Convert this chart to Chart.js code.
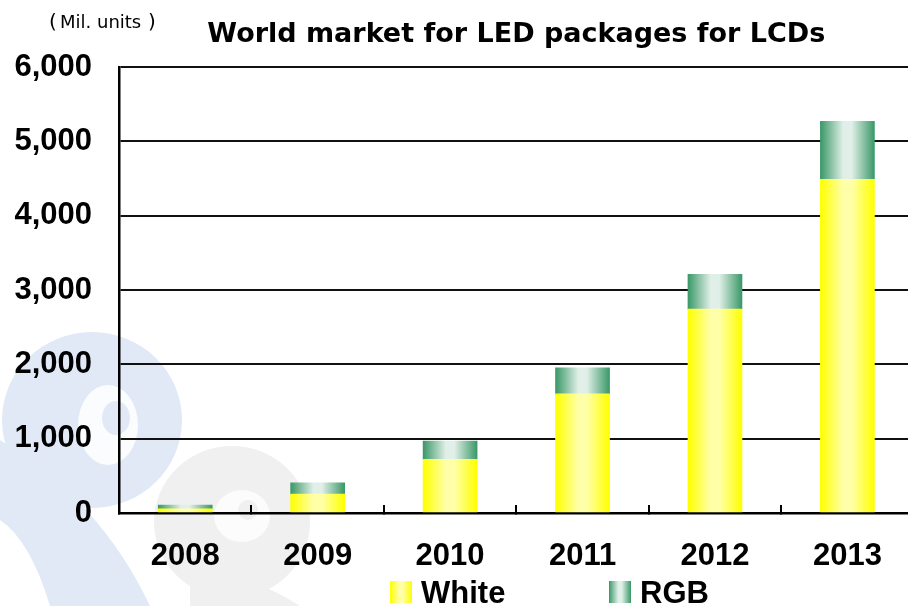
<!DOCTYPE html>
<html>
<head>
<meta charset="utf-8">
<script src="https://cdn.jsdelivr.net/npm/chart.js@4.4.1/dist/chart.umd.min.js"></script>
<style>
  html, body { margin: 0; padding: 0; background: #fff; overflow: hidden; }
  #wrap { width: 915px; height: 606px; }
</style>
</head>
<body>
<div id="wrap"><canvas id="ledChart" width="915" height="606"></canvas></div>
<script>
// LED package shipments for LCD backlights (million units)
const years = ['2008', '2009', '2010', '2011', '2012', '2013'];
const whiteUnits = [55, 255, 722, 1603, 2742, 4490];
const rgbUnits = [52, 152, 246, 350, 470, 779];
const yTicks = [0, 1000, 2000, 3000, 4000, 5000, 6000];

const FONT = '"Liberation Sans", Arial, sans-serif';
const WIDE = '"DejaVu Sans", Verdana, sans-serif';
const BAR_W = 54;

// horizontal cylinder-like shading: saturated edges, pale middle
function shade(ctx, x0, x1, edge, mid) {
  const g = ctx.createLinearGradient(x0, 0, x1, 0);
  g.addColorStop(0, edge);
  g.addColorStop(0.42, mid);
  g.addColorStop(0.58, mid);
  g.addColorStop(1, edge);
  return g;
}

function barFill(edge, mid) {
  return function(c) {
    const chart = c.chart;
    const xs = chart.scales.x;
    if (c.type !== 'data' || !xs || !chart.chartArea) return edge;
    const cx = xs.getPixelForValue(c.dataIndex);
    if (!isFinite(cx)) return edge;
    return shade(chart.ctx, cx - BAR_W / 2, cx + BAR_W / 2, edge, mid);
  };
}

const YELLOW = ['#ffff00', '#ffffa8'];
const GREEN = ['#3a9868', '#e0efe7'];

// faint swirl logo behind the chart
const backdrop = {
  id: 'backdrop',
  beforeDraw(chart) {
    const ctx = chart.ctx;
    ctx.save();
    ctx.fillStyle = '#e2e9f6';
    ctx.beginPath();
    ctx.ellipse(92, 420, 90, 88, 0, 0, Math.PI * 2);
    ctx.fill();
    ctx.beginPath();
    ctx.moveTo(0, 440);
    ctx.quadraticCurveTo(100, 500, 150, 606);
    ctx.lineTo(50, 606);
    ctx.quadraticCurveTo(30, 540, 0, 520);
    ctx.closePath();
    ctx.fill();
    ctx.fillStyle = '#fbfcfe';
    ctx.beginPath();
    ctx.ellipse(108, 425, 30, 40, 0, 0, Math.PI * 2);
    ctx.fill();
    ctx.fillStyle = '#e2e9f6';
    ctx.beginPath();
    ctx.ellipse(116, 418, 14, 17, 0, 0, Math.PI * 2);
    ctx.fill();

    ctx.fillStyle = '#f0f0f0';
    ctx.beginPath();
    ctx.ellipse(232, 522, 78, 76, 0, 0, Math.PI * 2);
    ctx.fill();
    ctx.beginPath();
    ctx.moveTo(190, 560);
    ctx.quadraticCurveTo(260, 580, 300, 606);
    ctx.lineTo(190, 606);
    ctx.closePath();
    ctx.fill();
    ctx.fillStyle = '#fcfcfc';
    ctx.beginPath();
    ctx.ellipse(242, 516, 28, 26, 0, 0, Math.PI * 2);
    ctx.fill();
    ctx.fillStyle = '#f0f0f0';
    ctx.beginPath();
    ctx.ellipse(248, 510, 10, 10, 0, 0, Math.PI * 2);
    ctx.fill();
    ctx.restore();
  }
};

// unit caption and the two-entry legend along the bottom
const extras = {
  id: 'extras',
  afterDraw(chart) {
    const ctx = chart.ctx;
    ctx.save();
    ctx.fillStyle = '#000';
    ctx.textBaseline = 'alphabetic';
    ctx.textAlign = 'left';
    ctx.font = '20px ' + WIDE;
    ctx.fillText('(', 49, 28);
    ctx.fillText(')', 148, 28);
    ctx.font = '18px ' + WIDE;
    ctx.fillText('Mil. units', 60, 28);

    const items = [
      { label: chart.data.datasets[0].label, x: 390, c: YELLOW },
      { label: chart.data.datasets[1].label, x: 609, c: GREEN }
    ];
    ctx.font = 'bold 31px ' + FONT;
    items.forEach(it => {
      ctx.fillStyle = shade(ctx, it.x, it.x + 22, it.c[0], it.c[1]);
      ctx.fillRect(it.x, 581, 22, 22);
      ctx.fillStyle = '#000';
      ctx.fillText(it.label, it.x + 31, 603);
    });
    ctx.restore();
  }
};

new Chart(document.getElementById('ledChart'), {
  type: 'bar',
  data: {
    labels: years,
    datasets: [
      { label: 'White', data: whiteUnits, backgroundColor: barFill(YELLOW[0], YELLOW[1]), barThickness: BAR_W },
      { label: 'RGB', data: rgbUnits, backgroundColor: barFill(GREEN[0], GREEN[1]), barThickness: BAR_W }
    ]
  },
  options: {
    responsive: false,
    animation: false,
    layout: { padding: 0 },
    plugins: {
      legend: { display: false },
      tooltip: { enabled: false },
      title: {
        display: true,
        fullSize: false,
        text: 'World market for LED packages for LCDs',
        color: '#000',
        font: { family: WIDE, size: 27, weight: 'bold' },
        padding: { top: 19, bottom: 15.6 }
      }
    },
    scales: {
      x: {
        stacked: true,
        grid: { drawOnChartArea: false, drawTicks: true, tickLength: -8, color: '#000', lineWidth: 2 },
        border: { color: '#000', width: 2.5 },
        ticks: { color: '#000', padding: 33, font: { family: FONT, size: 31, weight: 'bold' } },
        afterFit(scale) { scale.height = 93; }
      },
      y: {
        stacked: true,
        min: 0,
        max: 6000,
        afterBuildTicks(scale) { scale.ticks = yTicks.map(v => ({ value: v })); },
        grid: { drawTicks: false, color: '#111', lineWidth: 2 },
        border: { color: '#000', width: 2.5 },
        ticks: {
          color: '#000',
          padding: 27,
          font: { family: FONT, size: 31, weight: 'bold' },
          callback: v => v.toLocaleString('en-US')
        },
        afterFit(scale) { scale.width = 119; }
      }
    }
  },
  plugins: [backdrop, extras]
});
</script>
</body>
</html>
